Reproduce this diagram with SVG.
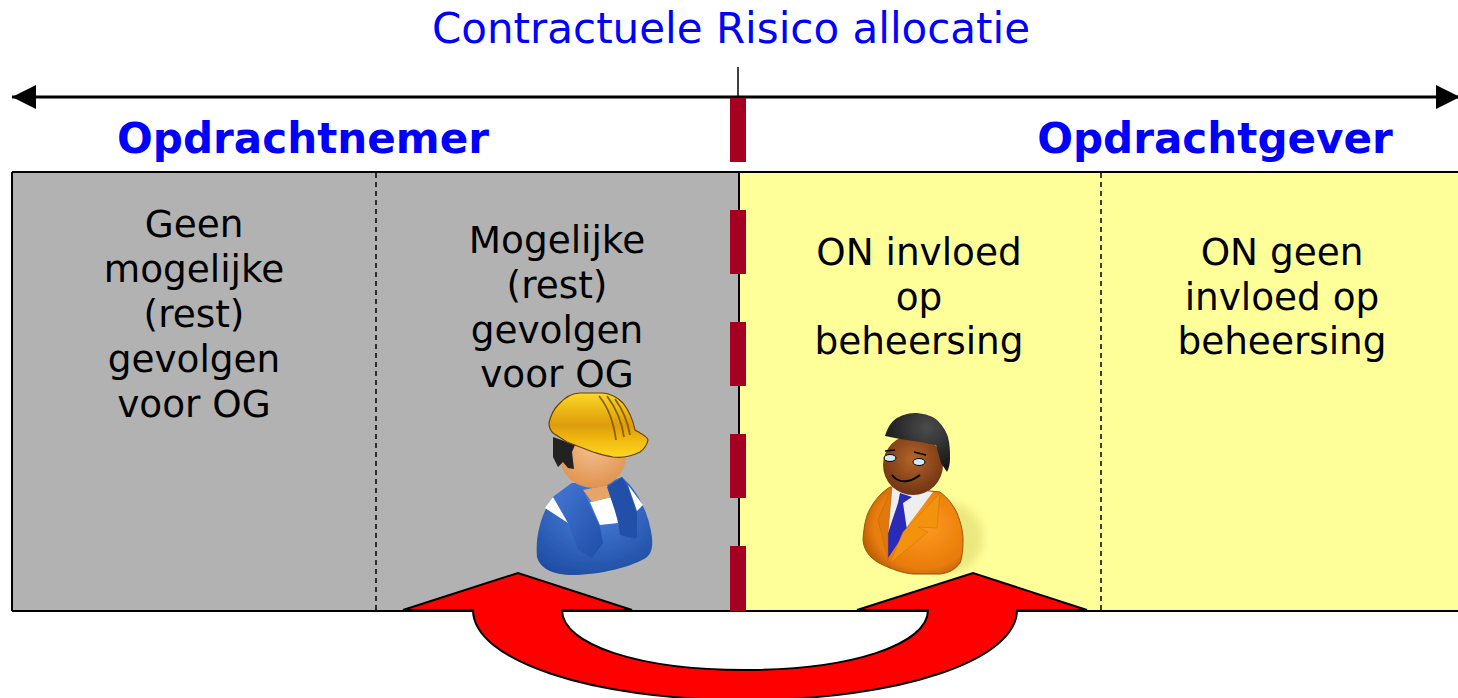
<svg xmlns="http://www.w3.org/2000/svg" width="1458" height="698" viewBox="0 0 1458 698">
<style>
text{font-family:"DejaVu Sans",Verdana,sans-serif;text-anchor:middle}
.t{font-size:37.4px;fill:#000}
.h{font-size:42.1px;font-weight:bold;fill:#0000ff}
.d{fill:none;stroke:#000;stroke-width:1.5;stroke-dasharray:5 4}
.b{fill:#a50021}
.out{stroke:#000;stroke-width:2}
</style>
<defs>
<marker id="ah" markerWidth="26" markerHeight="24" refX="24" refY="12" orient="auto-start-reverse" markerUnits="userSpaceOnUse"><path d="M0 0L24 12L0 24Z" fill="#000"/></marker>
<linearGradient id="hat" x1="0" y1="0" x2="0" y2="1"><stop offset="0" stop-color="#fbd828"/><stop offset=".5" stop-color="#dd9c08"/><stop offset=".72" stop-color="#f0b810"/><stop offset="1" stop-color="#fbd820"/></linearGradient>
<radialGradient id="skinA" cx=".5" cy=".35" r=".75"><stop offset="0" stop-color="#f6c090"/><stop offset="1" stop-color="#dc8c44"/></radialGradient>
<radialGradient id="blue" cx=".5" cy=".3" r=".8"><stop offset="0" stop-color="#4a80dc"/><stop offset="1" stop-color="#1c4aa0"/></radialGradient>
<linearGradient id="strap" x1="0" y1="0" x2="1" y2="1"><stop offset="0" stop-color="#4478d4"/><stop offset="1" stop-color="#1f4ca8"/></linearGradient>
<radialGradient id="skinB" cx=".5" cy=".4" r=".65"><stop offset="0" stop-color="#b4642a"/><stop offset="1" stop-color="#6a3010"/></radialGradient>
<radialGradient id="suit" cx=".6" cy=".45" r=".7"><stop offset="0" stop-color="#ff9a20"/><stop offset=".7" stop-color="#e87c08"/><stop offset="1" stop-color="#a85004"/></radialGradient>
<radialGradient id="hair" cx=".65" cy=".25" r=".7"><stop offset="0" stop-color="#4c4c4c"/><stop offset="1" stop-color="#181818"/></radialGradient>
<filter id="bl" x="-20%" y="-20%" width="140%" height="140%"><feGaussianBlur stdDeviation="5"/></filter>
<filter id="sf" x="-5%" y="-5%" width="110%" height="110%"><feGaussianBlur stdDeviation=".5"/></filter>
</defs>

<g id="panel-opdrachtnemer">
<rect x="12" y="172" width="727" height="439" fill="#b2b2b2"/>
</g>
<g id="panel-opdrachtgever">
<rect x="739" y="172" width="719" height="439" fill="#ffff99"/>
</g>

<g id="connectors">
<path d="M12 172H1458M12 172V611M12 611H1458M739 172V611" fill="none" stroke="#000" stroke-width="2"/>
<line class="d" x1="376" y1="173" x2="376" y2="610"/>
<line class="d" x1="1101" y1="173" x2="1101" y2="610"/>
<line x1="12" y1="97" x2="1460" y2="97" stroke="#000" stroke-width="3" marker-start="url(#ah)" marker-end="url(#ah)"/>
<line x1="738" y1="67" x2="738" y2="97" stroke="#000" stroke-width="1.5"/>
</g>

<g id="divider">
<rect class="b" x="730" y="98" width="16" height="64"/>
<rect class="b" x="730" y="210" width="16" height="64"/>
<rect class="b" x="730" y="322" width="16" height="64"/>
<rect class="b" x="730" y="434" width="16" height="64"/>
<rect class="b" x="730" y="546" width="16" height="65"/>
</g>

<g id="title"><text x="731" y="43" font-size="42" fill="#0000ff">Contractuele Risico allocatie</text></g>
<g id="label-opdrachtnemer"><text class="h" x="303" y="153">Opdrachtnemer</text></g>
<g id="label-opdrachtgever"><text class="h" x="1215" y="153">Opdrachtgever</text></g>

<g id="node-geen-gevolgen">
<text class="t" x="194" y="236.5">Geen</text>
<text class="t" x="194" y="281.5">mogelijke</text>
<text class="t" x="194" y="326.5">(rest)</text>
<text class="t" x="194" y="371.5">gevolgen</text>
<text class="t" x="194" y="416.5">voor OG</text>
</g>
<g id="node-mogelijke-gevolgen">
<text class="t" x="557" y="252.5">Mogelijke</text>
<text class="t" x="557" y="297.5">(rest)</text>
<text class="t" x="557" y="342.5">gevolgen</text>
<text class="t" x="557" y="386.5">voor OG</text>
</g>
<g id="node-on-invloed">
<text class="t" x="919" y="264.5">ON invloed</text>
<text class="t" x="919" y="309.5">op</text>
<text class="t" x="919" y="353.5">beheersing</text>
</g>
<g id="node-on-geen-invloed">
<text class="t" x="1282" y="264.5">ON geen</text>
<text class="t" x="1282" y="309.5">invloed op</text>
<text class="t" x="1282" y="353.5">beheersing</text>
</g>

<g id="worker" filter="url(#sf)">
<path d="M537 557C535 535 542 512 553 497L572 483H607L622 477L630 485C640 497 649 515 652 537C653 548 651 553 647 557C635 566 600 575 573 575C552 575 540 568 537 557Z" fill="url(#blue)"/>
<path d="M553 497L545 508L568 523L563 507Z" fill="#fff"/>
<path d="M590 502L600 525L618 523L612 497Z" fill="#fff"/>
<path d="M628 485L643 505L637 511Z" fill="#fff"/>
<path d="M583 490L592 502L612 497L607 485Z" fill="#e8a468"/>
<path d="M553 497L572 483L583 490L600 527L603 543L592 558L578 550L568 523Z" fill="url(#strap)"/>
<path d="M607 487L622 477L628 487L637 513V537L635 539L620 535L618 520Z" fill="#2450a8"/>
<ellipse cx="593" cy="456" rx="33" ry="32" fill="url(#skinA)"/>
<path d="M553 437V457L558 467L563 462L568 468L574 469L572 452L575 445Z" fill="#222"/>
<path d="M549 423C551 414 554 409 558 405C565 397 572 393 580 393H603C612 394 618 398 623 403C630 412 633 420 635 430C640 433 648 437 648 440C647 446 644 449 640 452C632 456 622 458 613 457C606 456 600 454 593 452L567 442L553 433C550 430 549 427 549 423Z" fill="url(#hat)" stroke="#6a4006" stroke-width="1.2"/>
<path d="M599 396C609 408 614 425 616 440M607 396C616 408 622 423 624 437M615 399C623 410 628 423 630 435" fill="none" stroke="#8a6006" stroke-width="1.8"/>
</g>

<g id="manager" filter="url(#sf)">
<ellipse cx="945" cy="538" rx="38" ry="36" fill="#d8d468" opacity=".55" filter="url(#bl)"/>
<path d="M863 540C864 525 866 518 868 513C874 500 882 492 890 487L940 492C948 498 953 505 957 513C961 523 963 532 963 540C963 550 962 558 960 563C955 570 948 573 940 574H913C902 573 892 569 883 565C872 560 864 552 863 540Z" fill="url(#suit)" stroke="#9a5208" stroke-width="1"/>
<path d="M892 487L933 492L903 532L888 533Z" fill="#eeeeee"/>
<path d="M900 493L912 497L903 503L907 530L888 558V533L898 503Z" fill="#2a2ab8"/>
<path d="M892 487L878 520L888 560V532Z" fill="#e07808" stroke="#b86a10" stroke-width=".5"/>
<path d="M940 493L937 528L918 527L928 532L890 563L903 532Z" fill="#f4920f" stroke="#c07010" stroke-width=".5"/>
<ellipse cx="913" cy="465" rx="30" ry="30" fill="url(#skinB)"/>
<path d="M885 436C888 426 892 421 897 418C904 414 910 413 917 413C926 414 932 416 937 420C943 426 946 431 948 437C950 445 950 452 950 458C950 464 949 468 947 472L941 463L936 445L920 442L900 439Z" fill="url(#hair)"/>
<ellipse cx="890" cy="458" rx="6" ry="3.5" fill="#cfeaf8" stroke="#000"/>
<ellipse cx="919" cy="462" rx="6" ry="3.5" fill="#cfeaf8" stroke="#000"/>
<path d="M885 451L895 450M914 452L926 455" stroke="#000" stroke-width="1.4" fill="none"/>
<path d="M892 475C898 483 908 484 920 475" stroke="#000" stroke-width="2" fill="none"/>
</g>

<g id="exchange-arrow">
<path class="out" d="M403 610L518 573L632 610H562C562 645 640 670 745 670C850 670 928 645 928 610H857L973 573L1087 610H1017C1017 660 900 700 745 700C590 700 473 660 473 610Z" fill="#ff0000"/>
</g>
</svg>
